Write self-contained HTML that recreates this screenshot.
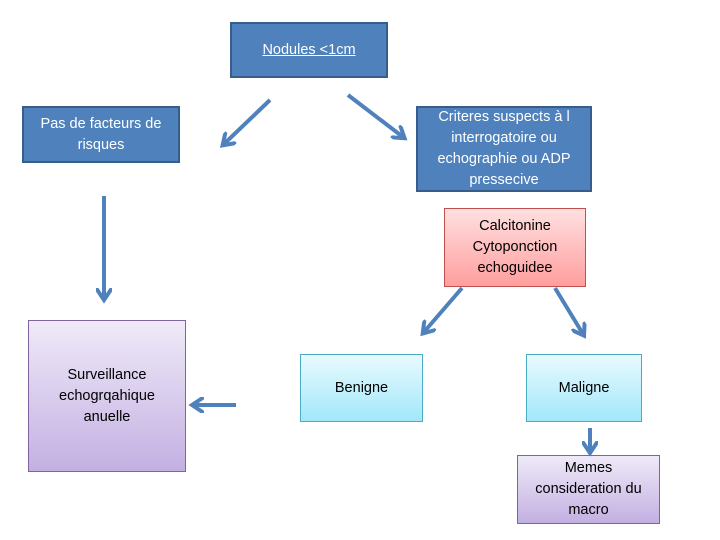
<!DOCTYPE html>
<html><head><meta charset="utf-8"><style>
body{margin:0;background:#fff;}
.w{position:relative;width:720px;height:540px;overflow:hidden;font-family:"Liberation Sans",sans-serif;}
.b{position:absolute;box-sizing:border-box;display:flex;align-items:center;justify-content:center;text-align:center;font-size:14.5px;line-height:21px;}
.dk{background:#4f81bd;border:2px solid #385d8a;color:#fff;}
.pk{background:linear-gradient(#ffe0e0,#ff9e9e);border:1px solid #c0504d;color:#000;}
.lv{background:linear-gradient(#efeaf8,#c3b0e2);border:1px solid #8064a2;color:#000;}
.cy{background:linear-gradient(#e8fafe,#a2e8fa);border:1px solid #4bacc6;color:#000;}
svg{position:absolute;left:0;top:0;}
</style></head><body><div class="w">
<div class="b dk" style="left:230px;top:22px;width:158px;height:56px;text-decoration:underline;">Nodules &lt;1cm</div>
<div class="b dk" style="left:22px;top:106px;width:158px;height:57px;">Pas de facteurs de<br>risques</div>
<div class="b dk" style="left:416px;top:106px;width:176px;height:86px;">Criteres suspects à l<br>interrogatoire ou<br>echographie ou ADP<br>pressecive</div>
<div class="b pk" style="left:444px;top:208px;width:142px;height:79px;">Calcitonine<br>Cytoponction<br>echoguidee</div>
<div class="b lv" style="left:28px;top:320px;width:158px;height:152px;">Surveillance<br>echogrqahique<br>anuelle</div>
<div class="b cy" style="left:300px;top:354px;width:123px;height:68px;">Benigne</div>
<div class="b cy" style="left:526px;top:354px;width:116px;height:68px;">Maligne</div>
<div class="b lv" style="left:517px;top:455px;width:143px;height:69px;">Memes<br>consideration du<br>macro</div>
<svg width="720" height="540">
<defs><marker id="a" markerWidth="4" markerHeight="4" refX="2.5" refY="2" orient="auto" markerUnits="strokeWidth"><path d="M0,0 L3,2 L0,4" fill="none" stroke="#4f81bd" stroke-width="1"/></marker></defs>
<g stroke="#4f81bd" stroke-width="4" fill="none" marker-end="url(#a)">
<line x1="270" y1="100" x2="224" y2="144"/>
<line x1="348" y1="95" x2="403" y2="137"/>
<line x1="104" y1="196" x2="104" y2="298"/>
<line x1="236" y1="405" x2="194" y2="405"/>
<line x1="462" y1="288" x2="424" y2="332"/>
<line x1="555" y1="288" x2="583" y2="334"/>
<line x1="590" y1="428" x2="590" y2="451"/>
</g></svg>
</div></body></html>
